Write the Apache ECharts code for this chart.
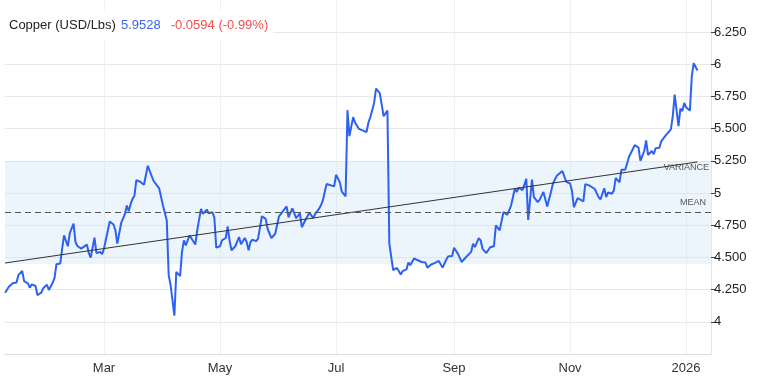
<!DOCTYPE html>
<html>
<head>
<meta charset="utf-8">
<script src="https://cdn.jsdelivr.net/npm/echarts@6/dist/echarts.min.js"></script>
<style>
html,body{margin:0;padding:0;background:#fff;}
#chart{width:761px;height:377px;}
</style>
</head>
<body>
<div id="chart"></div>
<script>
// Day offsets counted from 2025-01-01
const tickDays = [59, 120, 181, 243, 304, 365];
const tickLabels = ['Mar', 'May', 'Jul', 'Sep', 'Nov', '2026'];
const yTicks = [4, 4.25, 4.5, 4.75, 5, 5.25, 5.5, 5.75, 6, 6.25];

const days = [
  7,9,10,11,13,14,16,17,19,20,
  21,23,24,26,27,29,30,32,33,34,
  36,37,38,40,41,43,44,45,47,48,
  50,51,52,54,55,57,58,59,60,62,
  64,65,66,68,70,71,72,73,74,75,
  76,78,80,82,83,85,86,88,89,90,
  92,93,94,96,97,99,100,101,102,104,
  105,107,108,110,111,113,114,116,117,118,
  120,121,123,124,125,126,128,129,130,131,
  133,134,135,136,137,139,140,142,144,145,
  147,148,149,151,152,155,156,158,159,160,
  162,163,165,166,167,169,170,172,173,174,
  176,177,180,181,183,184,186,187,188,190,
  191,193,194,197,198,199,201,202,204,205,
  206,208,209,211,213,214,215,216,218,219,
  220,222,224,226,228,229,231,233,235,236,
  237,239,240,242,243,245,247,249,250,252,
  253,254,256,257,258,260,262,264,265,267,
  268,269,271,272,273,275,276,277,278,279,
  281,282,284,285,287,288,290,292,294,295,
  297,298,300,302,304,305,306,308,309,311,
  312,314,315,317,319,320,322,323,324,326,
  327,328,330,331,332,333,335,336,338,340,
  341,343,344,345,347,348,349,351,352,354,
  357,358,359,361,362,363,364,365,367,368,369,371
];

const prices = [
  4.226,4.272,4.260,4.299,4.306,4.363,4.396,4.316,4.299,4.265,
  4.291,4.278,4.208,4.226,4.260,4.288,4.247,4.303,4.342,4.448,
  4.453,4.569,4.671,4.587,4.689,4.762,4.620,4.589,4.569,4.563,
  4.600,4.535,4.499,4.654,4.535,4.543,4.525,4.569,4.556,4.779,
  4.756,4.710,4.607,4.766,4.839,4.903,4.859,4.916,4.955,4.980,
  5.101,5.088,5.065,5.212,5.219,5.096,5.088,5.036,5.024,4.903,
  4.787,4.363,4.286,4.049,4.388,4.355,4.543,4.633,4.594,4.671,
  4.684,4.600,4.710,4.877,4.839,4.872,4.843,4.851,4.812,4.576,
  4.587,4.633,4.651,4.741,4.633,4.556,4.587,4.589,4.658,4.602,
  4.651,4.620,4.556,4.620,4.638,4.627,4.646,4.820,4.800,4.723,
  4.651,4.641,4.684,4.820,4.839,4.897,4.812,4.882,4.872,4.805,
  4.843,4.735,4.795,4.787,4.847,4.805,4.839,4.877,4.903,4.941,
  5.070,5.065,5.052,5.142,5.083,5.011,4.975,5.644,5.443,5.590,
  5.546,5.499,5.502,5.474,5.546,5.590,5.700,5.811,5.777,5.765,
  5.597,5.641,4.607,4.401,4.419,4.434,4.368,4.394,4.407,4.461,
  4.440,4.492,4.478,4.465,4.461,4.421,4.445,4.458,4.473,4.458,
  4.421,4.486,4.509,4.511,4.576,4.530,4.465,4.498,4.499,4.543,
  4.607,4.581,4.651,4.633,4.567,4.535,4.579,4.587,4.749,4.710,
  4.718,4.853,4.830,4.836,4.903,5.036,5.009,5.042,5.034,5.022,
  5.111,4.792,5.105,4.968,4.930,4.947,5.009,4.895,5.011,5.073,
  5.134,5.147,5.171,5.088,5.076,5.019,4.890,4.961,4.951,4.936,
  5.070,5.060,5.066,5.032,4.969,4.951,5.038,4.969,5.005,4.995,
  5.019,5.117,5.083,5.182,5.173,5.181,5.282,5.289,5.372,5.353,
  5.250,5.327,5.410,5.296,5.327,5.302,5.348,5.353,5.404,5.443,
  5.495,5.597,5.765,5.520,5.657,5.636,5.700,5.667,5.641,5.906,6.009,5.9528
];

const trendDays = [7, 371];
const trendValues = [4.457, 5.242];
const meanValue = 4.85;
const bandLow = 4.45;
const bandHigh = 5.25;

const titleName = 'Copper (USD/Lbs)';
const lastPrice = '5.9528';
const change = '-0.0594 (-0.99%)';

const lineData = days.map((d, i) => [d, prices[i]]);
const trendData = trendDays.map((d, i) => [d, trendValues[i]]);
const FONT = 'Liberation Sans, Arial, sans-serif';

const chart = echarts.init(document.getElementById('chart'));
chart.setOption({
  animation: false,
  backgroundColor: '#fff',
  title: {
    left: 4,
    top: 10,
    padding: [6, 5, 6, 5],
    backgroundColor: '#fff',
    text: '{a|' + titleName + '} {b|' + lastPrice + '}  {c|' + change + '}',
    textStyle: {
      rich: {
        a: { fontFamily: FONT, fontSize: 13, fontWeight: 'normal', color: '#222' },
        b: { fontFamily: FONT, fontSize: 13, fontWeight: 'normal', color: '#3a66f2' },
        c: { fontFamily: FONT, fontSize: 13, fontWeight: 'normal', color: '#ef4f4f' }
      }
    }
  },
  grid: { left: 5, right: 50, top: -1, bottom: 23, containLabel: false },
  xAxis: {
    type: 'value',
    min: 6.95,
    max: 378.1,
    axisLine: { show: true, lineStyle: { color: '#dcdcdc' } },
    axisTick: { show: false, customValues: tickDays },
    axisLabel: {
      customValues: tickDays,
      color: '#333',
      fontFamily: FONT,
      fontSize: 13,
      margin: 8,
      formatter: function (v) {
        const i = tickDays.indexOf(Math.round(v));
        return i >= 0 ? tickLabels[i] : '';
      }
    },
    splitLine: { show: true, lineStyle: { color: '#f0f0f0' } }
  },
  yAxis: {
    type: 'value',
    position: 'right',
    min: 3.75,
    max: 6.5,
    interval: 0.25,
    axisLine: { show: true, lineStyle: { color: '#e6e6e6' } },
    axisTick: { show: true, length: 5, customValues: yTicks, lineStyle: { color: '#444' } },
    axisLabel: {
      customValues: yTicks,
      color: '#222',
      fontFamily: FONT,
      fontSize: 13,
      margin: 3,
      formatter: function (v) {
        return Number.isInteger(v) ? String(v) : v.toFixed(3);
      }
    },
    splitLine: { show: true, lineStyle: { color: '#e8e8e8' } }
  },
  series: [
    {
      type: 'line',
      data: lineData,
      showSymbol: false,
      symbol: 'none',
      lineStyle: { color: '#2c61f3', width: 2 },
      z: 3,
      markArea: {
        silent: true,
        itemStyle: { color: 'rgba(200,225,245,0.35)' },
        label: {
          show: true,
          position: 'insideTopRight',
          distance: 2,
          color: '#555',
          fontSize: 9,
          fontFamily: FONT
        },
        data: [[{ yAxis: bandLow, name: 'VARIANCE' }, { yAxis: bandHigh }]]
      },
      markLine: {
        silent: true,
        symbol: 'none',
        lineStyle: { color: '#555', type: [6, 4], width: 1 },
        label: {
          show: true,
          position: 'insideEndTop',
          formatter: 'MEAN',
          color: '#555',
          fontSize: 9,
          fontFamily: FONT
        },
        data: [{ yAxis: meanValue }]
      }
    },
    {
      type: 'line',
      data: trendData,
      showSymbol: false,
      symbol: 'none',
      silent: true,
      lineStyle: { color: '#333', width: 1 },
      z: 4
    }
  ]
});
</script>
</body>
</html>
